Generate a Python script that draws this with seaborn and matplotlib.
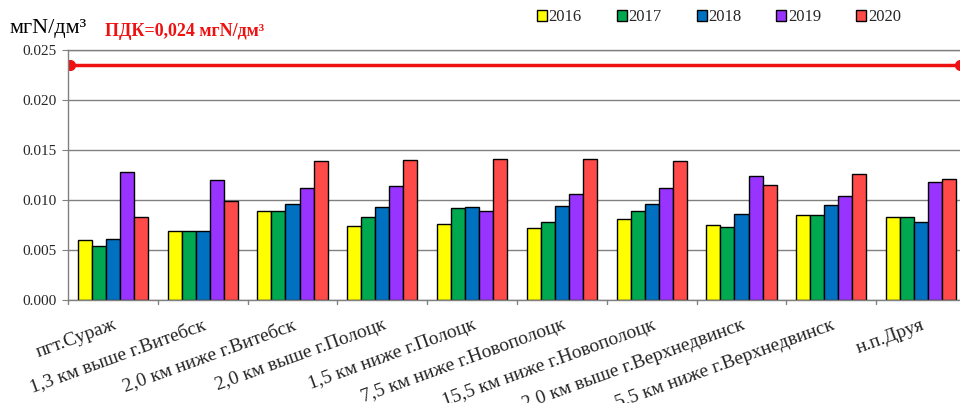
import pandas as pd
import seaborn as sns
import matplotlib.pyplot as plt

stations = ["пгт.Сураж", "1,3 км выше г.Витебск", "2,0 км ниже г.Витебск",
            "2,0 км выше г.Полоцк", "1,5 км ниже г.Полоцк", "7,5 км ниже г.Новополоцк",
            "15,5 км ниже г.Новополоцк", "2,0 км выше г.Верхнедвинск",
            "5,5 км ниже г.Верхнедвинск", "н.п.Друя"]
years = ["2016", "2017", "2018", "2019", "2020"]
v2016 = [0.0060, 0.0069, 0.0089, 0.0074, 0.0076, 0.0072, 0.0081, 0.0075, 0.0085, 0.0083]
v2017 = [0.0054, 0.0069, 0.0089, 0.0083, 0.0092, 0.0078, 0.0089, 0.0073, 0.0085, 0.0083]
v2018 = [0.0061, 0.0069, 0.0096, 0.0093, 0.0093, 0.0094, 0.0096, 0.0086, 0.0095, 0.0078]
v2019 = [0.0128, 0.0120, 0.0112, 0.0114, 0.0089, 0.0106, 0.0112, 0.0124, 0.0104, 0.0118]
v2020 = [0.0083, 0.0099, 0.0139, 0.0140, 0.0141, 0.0141, 0.0139, 0.0115, 0.0126, 0.0121]
pdk_level = 0.0235
colors = ["#FFFF00", "#00A850", "#0070C0", "#9933FF", "#FF4A4A"]

rows = []
for y, vals in zip(years, [v2016, v2017, v2018, v2019, v2020]):
    for s, v in zip(stations, vals):
        rows.append({"station": s, "year": y, "value": v})
df = pd.DataFrame(rows)

sns.set_style("white")
plt.rcParams['font.family'] = ['Liberation Serif', 'DejaVu Serif']

fig = plt.figure(figsize=(9.6, 4.03), dpi=100)
ax = fig.add_axes([68 / 960, 1 - 300 / 403, 898 / 960, 250 / 403])

sns.barplot(data=df, x="station", y="value", hue="year", palette=colors,
            width=0.78, gap=0, edgecolor="black", linewidth=1, saturation=1,
            ax=ax, legend=True)

ax.set_ylim(0, 0.025)
ax.set_xlim(-0.5, 9.5)
ax.set_yticks([0, 0.005, 0.01, 0.015, 0.02, 0.025])
ax.set_yticklabels(["0.000", "0.005", "0.010", "0.015", "0.020", "0.025"], fontsize=11)
ax.yaxis.grid(True, color="#808080", linewidth=1)
ax.set_axisbelow(True)
for side in ["left", "bottom", "top"]:
    ax.spines[side].set_color("#808080")
    ax.spines[side].set_linewidth(1)
ax.spines["right"].set_visible(False)

ax.set_xticks(range(len(stations)))
ax.set_xticklabels(stations, rotation=20, ha="right", rotation_mode="anchor", fontsize=14)
ax.tick_params(axis="x", length=0, pad=12)
ax.tick_params(axis="y", left=True, length=4, color="#808080", pad=4)
for b in [i - 0.5 for i in range(len(stations) + 1)]:
    ax.plot([b, b], [0, -0.0004], color="#808080", linewidth=1, clip_on=False)
ax.set_xlabel("")
ax.set_ylabel("")

ax.plot([-0.48, 9.43], [pdk_level, pdk_level], color="#EE1111", linewidth=2.5,
        marker="o", markersize=7)

leg = ax.legend(loc="upper left", bbox_to_anchor=(462 / 898, 1.19), ncol=5, frameon=False,
                fontsize=12, handlelength=0.6, handleheight=0.6, handletextpad=0.1,
                columnspacing=2.1, borderaxespad=0)

fig.text(10 / 960, 1 - 33 / 403, "мгN/дм³", fontsize=16, color="black")
fig.text(105 / 960, 1 - 36 / 403, "ПДК=0,024 мгN/дм³", fontsize=13, color="#EE1111",
         fontweight="bold")

fig.savefig("out.png", dpi=100)
